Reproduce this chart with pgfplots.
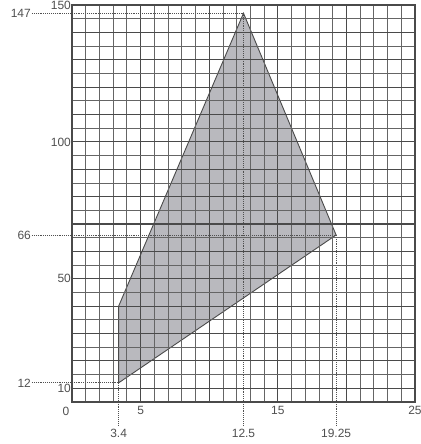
\documentclass[border=0pt]{standalone}
\usepackage{fontspec}
\setmainfont{Liberation Sans}
\usepackage{pgfplots}
\pgfplotsset{compat=1.18}
\definecolor{grd}{HTML}{4A4A4A}
\definecolor{txt}{HTML}{505050}
\definecolor{reg}{HTML}{B9B9BE}
\tikzset{lbl/.style={font=\fontsize{12}{14}\selectfont, text=txt, inner sep=1bp},
  guide/.style={txt, densely dotted, line width=0.9bp}}

\begin{document}
\begin{tikzpicture}
\begin{axis}[
  scale only axis, width=343bp, height=397bp,
  xmin=0, xmax=25, ymin=5, ymax=150,
  xtick={0,5,...,25}, xticklabels={,5,,15,,25},
  ytick={10,20,...,150}, yticklabels={10,,,,50,,,,,100,,,,,150},
  minor x tick num=4, minor y tick num=1,
  grid=both,
  major grid style={grd, line width=1.1bp},
  minor grid style={grd!85, line width=0.8bp},
  major tick length=0pt, minor tick length=0pt,
  axis line style={grd, line width=1.3bp},
  axis on top,
  tick label style={font=\fontsize{12}{14}\selectfont, text=txt},
  yticklabel style={inner sep=1bp},
  xticklabel style={yshift=-1bp},
  clip=false,
]
% feasible region
\addplot[fill=reg, draw=grd, line width=0.9bp]
  coordinates {(3.4,12) (3.4,40) (12.5,147) (19.25,66)} -- cycle;

% horizontal guides to the left labels
\draw[guide] ([xshift=-40bp]axis cs:0,147) -- (axis cs:12.5,147);
\draw[guide] ([xshift=-40bp]axis cs:0,66) -- (axis cs:19.25,66);
\draw[guide] ([xshift=-40bp]axis cs:0,12) -- (axis cs:3.4,12);
\node[lbl, anchor=east] at ([xshift=-40bp]axis cs:0,147) {147};
\node[lbl, anchor=east] at ([xshift=-40bp]axis cs:0,66) {66};
\node[lbl, anchor=east] at ([xshift=-40bp]axis cs:0,12) {12};

% vertical guides to the lower labels
\draw[guide] (axis cs:3.4,12) -- ([yshift=-24bp]axis cs:3.4,5);
\draw[guide] (axis cs:12.5,147) -- ([yshift=-24bp]axis cs:12.5,5);
\draw[guide] (axis cs:19.25,66) -- ([yshift=-24bp]axis cs:19.25,5);
\node[lbl, anchor=north] at ([yshift=-26bp]axis cs:3.4,5) {3.4};
\node[lbl, anchor=north] at ([yshift=-26bp]axis cs:12.5,5) {12.5};
\node[lbl, anchor=north] at ([yshift=-26bp]axis cs:19.25,5) {19.25};

\node[lbl] at ([xshift=-6bp,yshift=-9bp]axis cs:0,5) {0};
\end{axis}
\pgfresetboundingbox
\useasboundingbox (-72bp,-42bp) rectangle (349bp,402bp);
\end{tikzpicture}
\end{document}
